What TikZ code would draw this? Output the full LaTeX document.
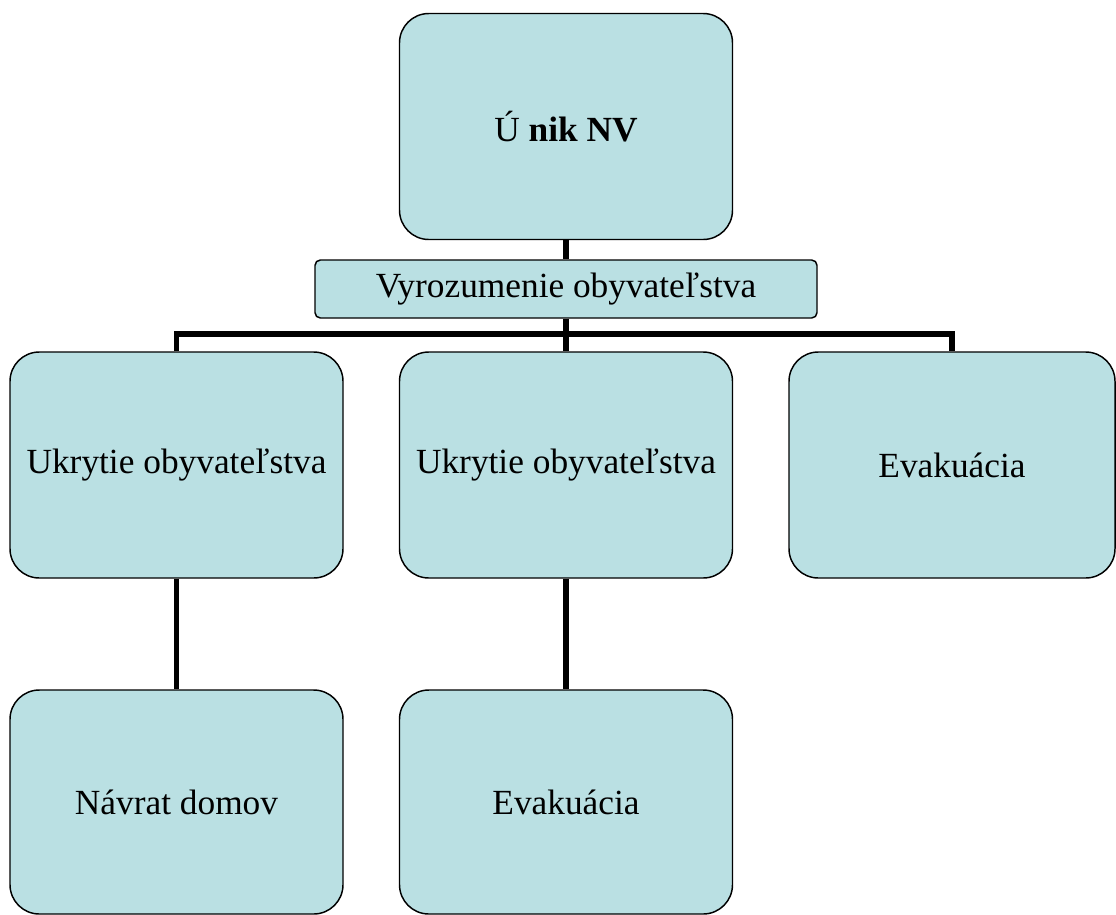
\documentclass[tikz,border=0pt]{standalone}
\usepackage{fontspec}
\setmainfont{Liberation Serif}
\usepackage{tikz}
\definecolor{boxfill}{RGB}{186,224,227}
\tikzset{bigbox/.style={rectangle,rounded corners=22pt,draw=black,line width=1.1pt,
                        fill=boxfill,inner sep=0pt,align=center,
                        minimum width=333*0.75pt,minimum height=226*0.75pt,
                        font=\fontsize{26.5}{30}\selectfont},
         barbox/.style={rectangle,rounded corners=4pt,draw=black,line width=1.1pt,
                        fill=boxfill,inner sep=0pt,
                        minimum width=502*0.75pt,minimum height=58*0.75pt,
                        font=\fontsize{26.5}{30}\selectfont},
         link/.style={line width=4pt,line join=miter}}

\begin{document}
\begin{tikzpicture}[x=0.75pt,y=-0.75pt]
    \useasboundingbox (0,0) rectangle (1116,914);
    \node (unik) at (566,126.5) [bigbox]{Ú \textbf{nik NV}};
    \node (vyroz) at (566,289) [barbox]{Vyrozumenie obyvateľstva};
    \node (ukr1) at (176.5,465) [bigbox]{Ukrytie obyvateľstva};
    \node (ukr2) at (566,465) [bigbox]{Ukrytie obyvateľstva};
    \node (evak1) at (952,465) [bigbox,minimum width=326*0.75pt]{Evakuácia};
    \node (navrat) at (176.5,802) [bigbox,minimum height=224*0.75pt]{Návrat domov};
    \node (evak2) at (566,802) [bigbox,minimum height=224*0.75pt]{Evakuácia};
    \coordinate (bus) at (566,334);
    \draw[link] (unik) -- (vyroz);
    \draw[link] (vyroz) -- (bus);
    \draw[link] (ukr1.north) |- (bus) -| (evak1.north);
    \draw[link] (bus) -- (ukr2.north);
    \draw[link] (ukr1) -- (navrat);
    \draw[link] (ukr2) -- (evak2);
\end{tikzpicture}
\end{document}
